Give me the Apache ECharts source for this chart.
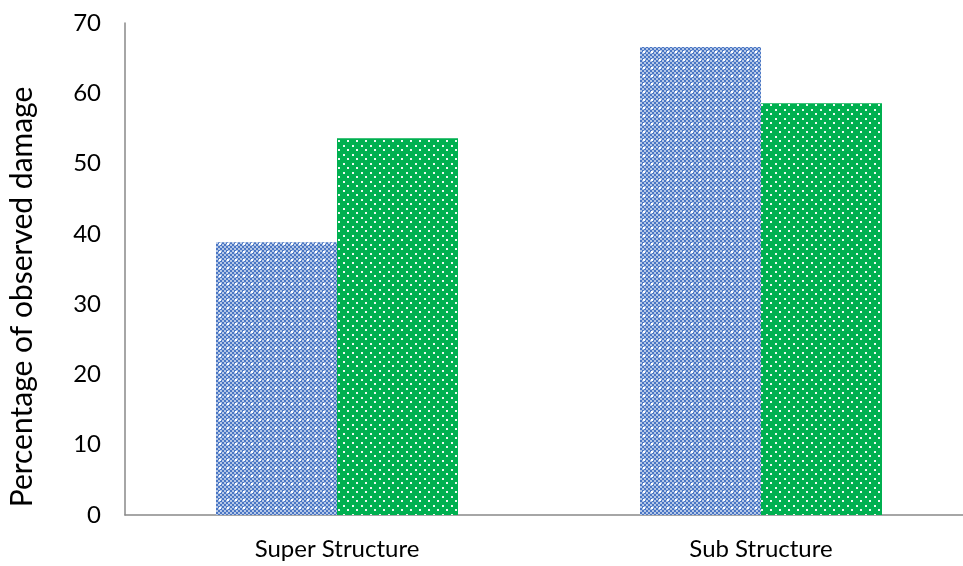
<!DOCTYPE html>
<html>
<head>
<meta charset="utf-8">
<script src="https://cdn.jsdelivr.net/npm/echarts@6/dist/echarts.min.js"></script>
<style>
  html, body { margin: 0; padding: 0; background: #fff; }
  #chart { width: 963px; height: 566px; }
</style>
</head>
<body>
<div id="chart"></div>
<script>
// Damage categories and observed percentages for the two surveys
const categories = ['Super Structure', 'Sub Structure'];
const seriesA = [38.8, 66.6];
const seriesB = [53.6, 58.6];
const yTicks = { min: 0, max: 70, interval: 10 };

// Checkered blue fill with small white highlights
function checkerPattern() {
  const c = document.createElement('canvas');
  c.width = 8; c.height = 8;
  const g = c.getContext('2d');
  g.fillStyle = '#b4c7e7';
  g.fillRect(0, 0, 8, 8);
  g.fillStyle = '#4a76c4';
  for (let y = 0; y < 8; y += 2) {
    for (let x = 0; x < 8; x += 2) {
      if (((x + y) / 2) % 2 === 0) g.fillRect(x, y, 2, 2);
    }
  }
  g.fillStyle = '#ffffff';
  g.fillRect(3, 3, 2, 2);
  return c;
}

// Green fill with staggered white dots
function dotPattern() {
  const c = document.createElement('canvas');
  c.width = 9; c.height = 9;
  const g = c.getContext('2d');
  g.fillStyle = '#00b050';
  g.fillRect(0, 0, 9, 9);
  g.fillStyle = '#eefaf2';
  g.fillRect(1, 1, 2, 2);
  g.fillRect(5, 5, 2, 2);
  return c;
}

const chart = echarts.init(document.getElementById('chart'), null, { renderer: 'canvas' });
const font = 'Lato, "Open Sans", sans-serif';

chart.setOption({
  animation: false,
  backgroundColor: '#ffffff',
  textStyle: { fontFamily: font },
  grid: {
    left: 125, top: 23, width: 848, bottom: 51,
    containLabel: false,
    outerBoundsMode: 'none'
  },
  graphic: [{
    type: 'text',
    x: 22,
    y: 297,
    rotation: Math.PI / 2,
    style: {
      text: 'Percentage of observed damage',
      fontSize: 30,
      fontFamily: font,
      fill: '#000',
      align: 'center',
      verticalAlign: 'middle'
    }
  }],
  xAxis: {
    type: 'category',
    data: categories,
    axisLine: { show: true, lineStyle: { color: '#898989', width: 1.5 } },
    axisTick: { show: false },
    axisLabel: { color: '#000', fontSize: 24, margin: 22 }
  },
  yAxis: {
    type: 'value',
    min: yTicks.min,
    max: yTicks.max,
    interval: yTicks.interval,
    axisLine: { show: true, lineStyle: { color: '#898989', width: 1.5 } },
    axisTick: { show: false },
    splitLine: { show: false },
    axisLabel: { color: '#000', fontSize: 24, margin: 24 }
  },
  series: [
    {
      type: 'bar',
      data: seriesA,
      barWidth: 121,
      barGap: '0%',
      itemStyle: { color: { image: checkerPattern(), repeat: 'repeat' } }
    },
    {
      type: 'bar',
      data: seriesB,
      barWidth: 121,
      itemStyle: { color: { image: dotPattern(), repeat: 'repeat' } }
    }
  ]
});
</script>
</body>
</html>
